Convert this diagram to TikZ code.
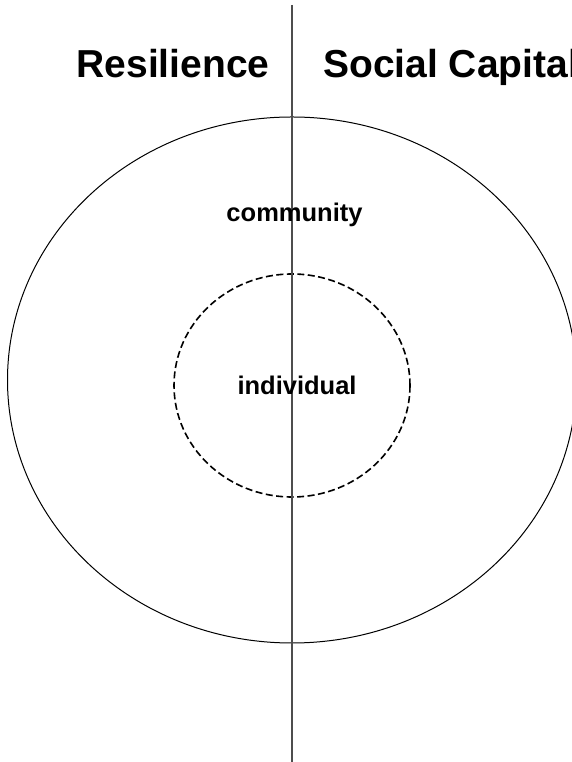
\documentclass[tikz,border=0pt]{standalone}
\usepackage{fontspec}
\setmainfont{Liberation Sans}
\usepackage{xcolor}
\usepackage{tikz}
\definecolor{ink}{HTML}{000000}
\definecolor{divider}{HTML}{4D4D4D}
\newcommand{\titleF}{\fontsize{39}{46}\selectfont\bfseries}
\newcommand{\labelF}{\fontsize{25.5}{30}\selectfont\bfseries}

\begin{document}
\begin{tikzpicture}[x=1pt, y=1pt]
      \clip (0, 0) rectangle (572, 762);
      \useasboundingbox (0, 0) rectangle (572, 762);

      % outer ring and dashed inner ring
      \draw[draw=ink, line width=1pt] (292, 382) ellipse (284.5 and 263);
      \draw[draw=ink, line width=1.6pt, dash pattern=on 7pt off 3.5pt]
        (292, 376.5) ellipse (118 and 111.5);

      % divider
      \coordinate (divtop) at (292, 757);
      \coordinate (divbot) at (292, 0);
      \draw[divider, line width=1.3pt] (divtop) -- (divbot);

      \node[font=\titleF, text=ink, anchor=base, inner sep=0pt] (resil)
        at (173, 684) {Resilience};
      \node[font=\titleF, text=ink, anchor=base west, inner sep=0pt] (social)
        at (323, 684) {Social Capital};
      \node[font=\labelF, text=ink, anchor=base, inner sep=0pt] (comm)
        at (294.5, 540) {community};
      \node[font=\labelF, text=ink, anchor=base, inner sep=0pt] (indiv)
        at (297, 367) {individual};
    \end{tikzpicture}
\end{document}
